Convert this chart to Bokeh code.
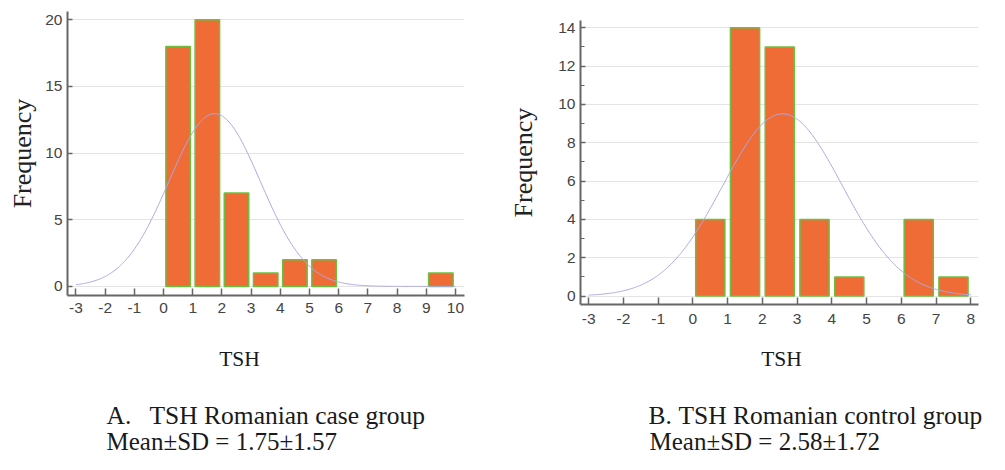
import numpy as np
from bokeh.plotting import figure
from bokeh.models import Range1d, FixedTicker, Label, Spacer
from bokeh.layouts import row, column
from bokeh.embed import file_html
from bokeh.resources import INLINE

# ---------------- data ----------------
case_bin_left = [0, 1, 2, 3, 4, 5, 9]
case_counts = [18, 20, 7, 1, 2, 2, 1]
case_mean = 1.75
case_sd = 1.57

control_bin_left = [0, 1, 2, 3, 4, 6, 7]
control_counts = [4, 14, 13, 4, 1, 4, 1]
control_mean = 2.58
control_sd = 1.72

bin_width = 1.0

case_xticks = list(range(-3, 11))
case_yticks = [0, 5, 10, 15, 20]
case_yminor = []
control_xticks = list(range(-3, 9))
control_yticks = [0, 2, 4, 6, 8, 10, 12, 14]
control_yminor = [1, 3, 5, 7, 9, 11, 13]

x_label = "TSH"
y_label = "Frequency"
case_caption = ["A.", "TSH Romanian case group", "Mean±SD = 1.75±1.57"]
control_caption = ["B.", "TSH Romanian control group", "Mean±SD = 2.58±1.72"]

# ---------------- style ----------------
BAR_FILL = "#F06C37"
BAR_LINE = "#6CBF3F"
CURVE = "#A9A9E4"
AXIS = "#666666"
GRID = "#E4E4E4"
TICK_TXT = "#444444"
SERIF = "Liberation Serif"
SANS = "Liberation Sans"

FIG_H = 325
BORDER_T = 11
BORDER_B = 30
SHIFT_R = 9
CAP_H = 120
LEFT_W = 480
RIGHT_W = 509


def make_panel(bin_left, counts, mean, sd, xticks, yticks, yminor,
               xr, yr, width, bl, br, ylab_standoff, xlab_standoff):
    p = figure(width=width, height=FIG_H, output_backend="svg",
               toolbar_location=None, x_range=Range1d(*xr), y_range=Range1d(*yr),
               min_border_left=bl, min_border_right=br,
               min_border_top=BORDER_T, min_border_bottom=BORDER_B)
    p.outline_line_color = None
    p.background_fill_color = "white"
    p.border_fill_color = "white"
    p.xgrid.visible = False
    p.ygrid.grid_line_color = GRID
    p.ygrid.grid_line_width = 1

    centers = [b + bin_width / 2 for b in bin_left]
    p.vbar(x=centers, top=counts, bottom=0, width=0.84 * bin_width,
           fill_color=BAR_FILL, line_color=BAR_LINE, line_width=1.5)

    n = sum(counts)
    xs = np.linspace(xticks[0], xticks[-1], 400)
    ys = n * bin_width * np.exp(-0.5 * ((xs - mean) / sd) ** 2) / (sd * np.sqrt(2 * np.pi))
    p.line(xs, ys, line_color=CURVE, line_width=1)

    # x axis
    xa = p.xaxis[0]
    xa.ticker = FixedTicker(ticks=xticks)
    xa.major_label_overrides = {t: str(t) for t in xticks}
    xa.axis_line_color = AXIS
    xa.axis_line_width = 2
    xa.major_tick_line_color = AXIS
    xa.major_tick_line_width = 1.5
    xa.major_tick_in = 7
    xa.major_tick_out = 0
    xa.minor_tick_line_color = None
    xa.major_label_standoff = xlab_standoff
    xa.major_label_text_font = SANS
    xa.major_label_text_font_size = "15.5px"
    xa.major_label_text_color = TICK_TXT

    # y axis
    ya = p.yaxis[0]
    ya.ticker = FixedTicker(ticks=yticks, minor_ticks=yminor)
    ya.axis_line_color = AXIS
    ya.axis_line_width = 2
    ya.major_tick_line_color = AXIS
    ya.major_tick_line_width = 1.5
    ya.major_tick_in = 5
    ya.major_tick_out = 0
    if yminor:
        ya.minor_tick_line_color = AXIS
        ya.minor_tick_in = 4
        ya.minor_tick_out = 0
    else:
        ya.minor_tick_line_color = None
    ya.major_label_standoff = 5
    ya.major_label_text_font = SANS
    ya.major_label_text_font_size = "15.5px"
    ya.major_label_text_color = TICK_TXT
    ya.axis_label = y_label
    ya.axis_label_text_font = SERIF
    ya.axis_label_text_font_style = "normal"
    ya.axis_label_text_font_size = "26px"
    ya.axis_label_text_color = "#222222"
    ya.axis_label_standoff = ylab_standoff
    return p


left = make_panel(case_bin_left, case_counts, case_mean, case_sd,
                  case_xticks, case_yticks, case_yminor,
                  xr=(-3.29, 10.31), yr=(-0.68, 20.62),
                  width=LEFT_W, bl=67, br=16,
                  ylab_standoff=5, xlab_standoff=7)

right = make_panel(control_bin_left, control_counts, control_mean, control_sd,
                   control_xticks, control_yticks, control_yminor,
                   xr=(-3.236, 8.22), yr=(-0.44, 14.38),
                   width=RIGHT_W, bl=100, br=11,
                   ylab_standoff=17, xlab_standoff=9)

# ---------------- caption strip (x-axis titles and captions) ----------------
cap = figure(width=LEFT_W + RIGHT_W, height=CAP_H, output_backend="svg",
             toolbar_location=None, x_range=Range1d(0, 1), y_range=Range1d(0, 1),
             min_border_left=0, min_border_right=0, min_border_top=0, min_border_bottom=0)
cap.axis.visible = False
cap.grid.visible = False
cap.outline_line_color = None


def add_text(txt, x, y, size, align="left"):
    cap.add_layout(Label(x=x, y=y, x_units="screen", y_units="screen",
                         text=txt, text_font=SERIF, text_font_size=size,
                         text_color="#1a1a1a", text_align=align,
                         text_baseline="middle"))


add_text(x_label, 239, 95.6, "21.5px", "center")
add_text(x_label, 781, 95.6, "21.5px", "center")

add_text(case_caption[0], 106, 39.4, "25.5px")
add_text(case_caption[1], 149, 39.4, "25.5px")
add_text(case_caption[2], 106, 13, "25px")

add_text(control_caption[0], 648, 39.4, "25.5px")
add_text(control_caption[1], 678, 39.4, "25.5px")
add_text(control_caption[2], 649, 13, "25px")

layout = column(row(left, column(Spacer(width=RIGHT_W, height=SHIFT_R), right)), cap)
open("out.html", "w").write(file_html(layout, INLINE))
